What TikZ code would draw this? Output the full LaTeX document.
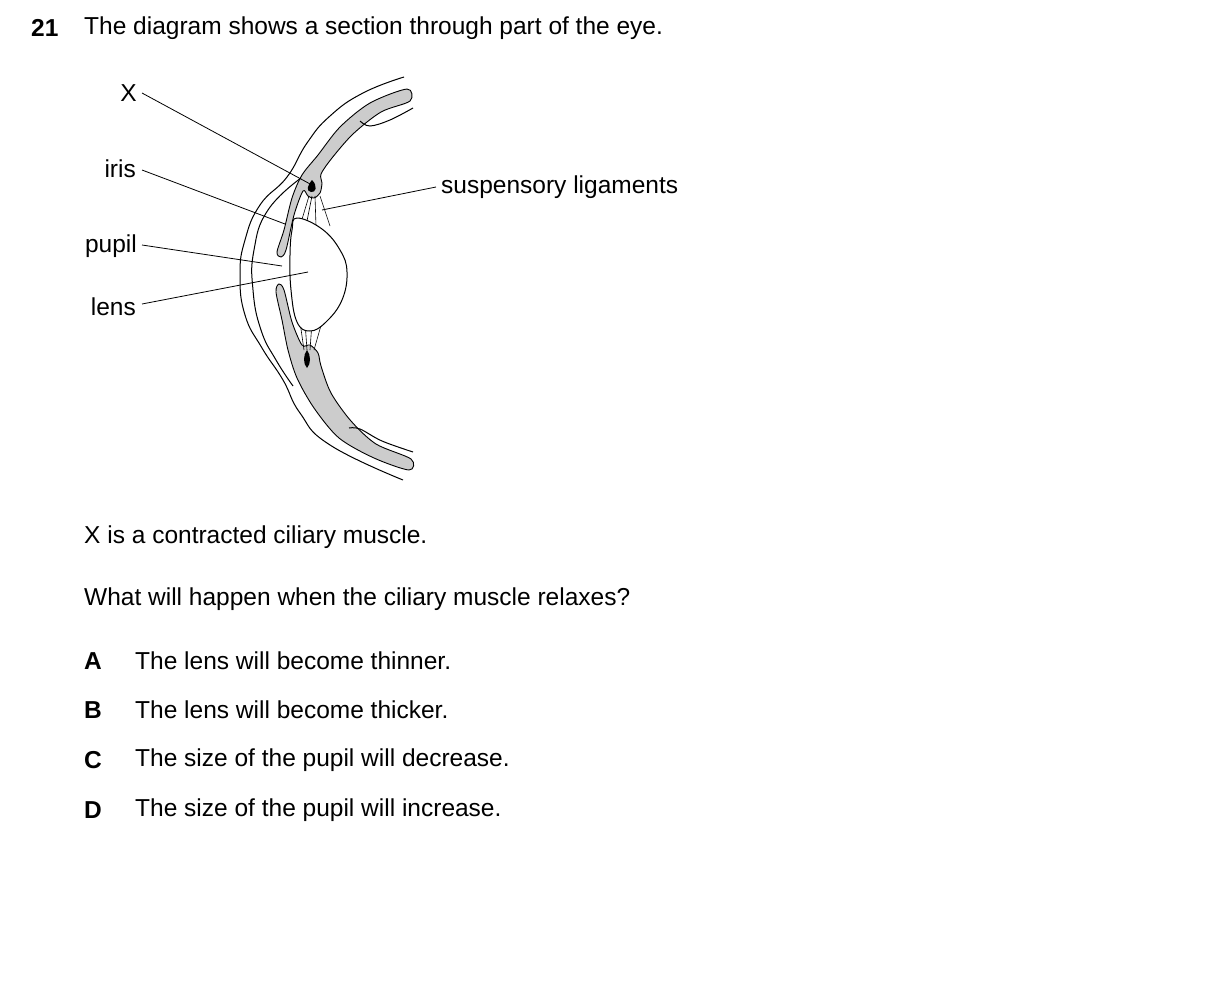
\documentclass[tikz,border=0pt]{standalone}
\usepackage{fontspec}
\setmainfont{Liberation Sans}
\begin{document}
\begin{tikzpicture}[x=1pt,y=-1pt,
  txt/.style={anchor=west,inner sep=0pt,font=\fontsize{24.5}{28}\selectfont},
  lbl/.style={anchor=east,inner sep=0pt,font=\fontsize{24.5}{28}\selectfont},
  ptr/.style={line width=0.8pt},
  edge/.style={line width=1pt},
  band/.style={fill=black!20,draw=black,line width=0.9pt}]
\useasboundingbox (0,0) rectangle (1209,983);
% header
\node[txt,font=\fontsize{24.5}{28}\selectfont\bfseries] (num) at (31,28) {21};
\node[txt] (q) at (84,28) {The diagram shows a section through part of the eye.};
% gray bands
\draw[band] plot[smooth cycle,tension=0.5] coordinates {(407,89) (370,103) (340,127) (318,155) (302,175) (292,198) (284,230) (277,252) (281,257) (286,250) (294,215) (303,191) (308,196) (314,198) (320,193) (322,183) (321,174) (332,158) (353,134) (381,112) (410,101)};
\draw[band] plot[smooth cycle,tension=0.5] coordinates {(276,292) (279,284) (284,290) (292,322) (302,345) (310,345) (318,353) (321,366) (331,393) (351,421) (376,444) (411,459) (409,470) (374,458) (339,438) (314,408) (297,378) (288,350) (282,320)};
% ciliary muscles
\fill (312,180) .. controls (318,186) and (316,193) .. (311,192) .. controls (306,191) and (307,186) .. (312,180) -- cycle;
\fill (307,350) .. controls (311,355) and (311,364) .. (307,368) .. controls (303,364) and (303,355) .. (307,350) -- cycle;
% cornea
\draw[edge] plot[smooth,tension=0.8] coordinates {(404,77) (363,93) (330,116) (307,143) (287,177) (260,205) (245,240) (240,275) (245,315) (262,348) (283,380) (300,413) (330,445) (403,480)};
\draw[edge] plot[smooth,tension=0.8] coordinates {(301,178) (268,210) (254,250) (253,290) (261,330) (276,360) (293,386)};
% retina
\draw[edge] plot[smooth,tension=0.6] coordinates {(360,121) (370,126) (390,120) (413,108)};
\draw[edge] plot[smooth,tension=0.6] coordinates {(349,428) (360,429) (382,441) (413,452)};
% ligaments
\foreach \a/\b in {309/300,312/306,315/316,320/330}
  \draw[line width=0.6pt] (\a,196) -- (\b,226);
\foreach \a/\b in {304/300,307/305,310/312,314/322}
  \draw[line width=0.6pt] (\a,350) -- (\b,322);
% lens
\draw[edge,fill=white] plot[smooth cycle,tension=0.7] coordinates {(297,218) (322,229) (340,250) (347,272) (342,300) (326,322) (310,331) (297,322) (291,290) (290,255) (292,230)};
% labels
\coordinate (px) at (312,185);
\coordinate (pi) at (285,224);
\coordinate (pp) at (282,266);
\coordinate (pl) at (308,272);
\coordinate (ps) at (322,210);
\node[lbl] (lx) at (137,93) {X};
\node[lbl] (li) at (136,169) {iris};
\node[lbl] (lp) at (137,246) {pupil};
\node[lbl] (ll) at (136,307) {lens};
\node[txt] (ls) at (441,187) {suspensory ligaments};
\draw[ptr] (142,93) -- (px);
\draw[ptr] (142,170) -- (pi);
\draw[ptr] (142,245) -- (pp);
\draw[ptr] (142,304) -- (pl);
\draw[ptr] (436,187) -- (ps);
% text
\node[txt] (t1) at (84,537) {X is a contracted ciliary muscle.};
\node[txt] (t2) at (84,599) {What will happen when the ciliary muscle relaxes?};
\foreach \l/\y/\t in {A/661/The lens will become thinner.,B/710/The lens will become thicker.,C/760/The size of the pupil will decrease.,D/810/The size of the pupil will increase.}{
  \node[txt,font=\fontsize{24.5}{28}\selectfont\bfseries] (o\l) at (84,\y) {\l};
  \node[txt] (a\l) at (135,\y) {\t};
}
\end{tikzpicture}
\end{document}
